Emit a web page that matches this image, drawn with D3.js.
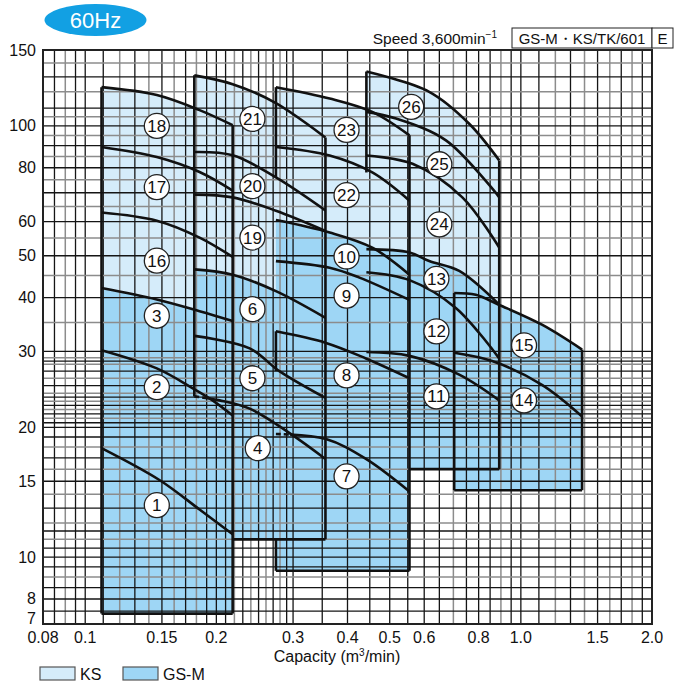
<!DOCTYPE html>
<html>
<head>
<meta charset="utf-8">
<script src="https://cdn.jsdelivr.net/npm/d3@7/dist/d3.min.js"></script>
<style>
  body { margin: 0; background: #fff; }
  svg text { font-family: "Liberation Sans", Arial, sans-serif; fill: #111; }
</style>
</head>
<body>
<div id="chart"></div>
<script>
// axis ticks
const capTicks = [0.08, 0.1, 0.15, 0.2, 0.3, 0.4, 0.5, 0.6, 0.8, 1.0, 1.5, 2.0];
const capLabels = ["0.08", "0.1", "0.15", "0.2", "0.3", "0.4", "0.5", "0.6", "0.8", "1.0", "1.5", "2.0"];
const headTicks = [7, 8, 10, 15, 20, 30, 40, 50, 60, 80, 100, 150];

// grid lines of the chart paper
const gridCap = [0.085, 0.09, 0.095, 0.1, 0.11, 0.12, 0.13, 0.14, 0.15, 0.16, 0.17, 0.18, 0.19, 0.2,
  0.21, 0.22, 0.23, 0.24, 0.25, 0.26, 0.27, 0.28, 0.29, 0.3, 0.35, 0.4, 0.45, 0.5, 0.55, 0.6, 0.65,
  0.7, 0.75, 0.8, 0.85, 0.9, 0.95, 1.0, 1.1, 1.2, 1.3, 1.4, 1.5, 1.6, 1.7, 1.8, 1.9];
const gridHead = [7.5, 8, 8.5, 9, 9.5, 10, 10.5, 11, 11.5, 12, 13, 14, 15, 16, 17, 18, 19, 20,
  20.5, 21, 21.5, 22, 22.5, 23, 23.5, 24, 25, 26, 27, 28, 28.5, 29, 30, 35, 40, 45, 50, 55, 60,
  65, 70, 75, 80, 85, 90, 95, 100, 105, 110, 120, 130, 140];

// pump columns: capacity range and bottom head (m3/min, m)
const colLeft = [0.109, 0.178, 0.274, 0.442, 0.703];
const colRight = [0.218, 0.356, 0.555, 0.892, 1.382];
const colBottom = [7.4, 11.0, 9.3, 16.0, 14.3];
const gsmCount = [3, 3, 4, 3, 2]; // lower curves of each column are GS-M, rest KS

// head curves [capacity, head], bottom to top in each column
const colA = [
  [[0.109, 17.9], [0.148, 15.1], [0.183, 12.9], [0.218, 11.3]],             // 1
  [[0.109, 30.2], [0.146, 27.4], [0.177, 24.6], [0.196, 23.1], [0.218, 21.3]], // 2
  [[0.109, 42.1], [0.146, 39.6], [0.183, 37.2], [0.218, 35.3]],             // 3
  [[0.109, 63.0], [0.146, 60.3], [0.183, 55.1], [0.218, 49.7]],             // 16
  [[0.109, 89.4], [0.146, 84.7], [0.183, 78.2], [0.218, 70.8]],             // 17
  [[0.109, 123], [0.146, 117.9], [0.183, 108.8], [0.218, 100.4]]            // 18
];
const colB = [
  [[0.178, 23.6], [0.2035, 23.1], [0.2385, 22.1], [0.2945, 19.4], [0.356, 16.9]], // 4
  [[0.178, 32.6], [0.2385, 30.5], [0.279, 27.0], [0.356, 23.4]],            // 5
  [[0.178, 46.5], [0.218, 45.2], [0.274, 41.4], [0.356, 35.9]],             // 6
  [[0.178, 69.3], [0.218, 68.3], [0.274, 63.6], [0.356, 57.1]],             // 19
  [[0.178, 87.0], [0.218, 85.5], [0.274, 76.0], [0.356, 63.7]],             // 20
  [[0.178, 131], [0.218, 125], [0.274, 113], [0.356, 94.0]]                 // 21
];
const colC = [
  [[0.274, 19.3], [0.357, 18.8], [0.441, 16.9], [0.555, 14.2]],             // 7
  [[0.274, 33.4], [0.357, 31.4], [0.441, 28.9], [0.555, 26.0]],             // 8
  [[0.274, 48.6], [0.364, 46.9], [0.426, 44.5], [0.555, 39.5]],             // 9
  [[0.274, 60.5], [0.364, 56.6], [0.456, 52.2], [0.555, 45.2]],             // 10
  [[0.274, 89.4], [0.364, 85.4], [0.456, 78.0], [0.555, 67.1]],             // 22
  [[0.274, 123], [0.364, 115.8], [0.456, 107.8], [0.555, 95.1]]             // 23
];
const colD = [
  [[0.442, 29.9], [0.555, 29.3], [0.722, 26.5], [0.892, 23.1]],             // 11
  [[0.442, 45.8], [0.555, 43.9], [0.71, 37.8], [0.892, 28.9]],              // 12
  [[0.442, 51.8], [0.555, 50.9], [0.616, 48.6], [0.722, 46.1], [0.892, 38.5]], // 13
  [[0.442, 85.4], [0.564, 81.7], [0.734, 68.3], [0.892, 52.2]],             // 24
  [[0.442, 107.8], [0.517, 104], [0.673, 92.6], [0.892, 68.3]],             // 25
  [[0.442, 133.7], [0.616, 120], [0.761, 101.2], [0.892, 83.2]]             // 26
];
const colE = [
  [[0.703, 29.8], [0.859, 28.5], [1.118, 25.1], [1.382, 21.2]],             // 14
  [[0.703, 41.0], [0.788, 40.6], [0.89, 38.5], [1.118, 34.6], [1.382, 30.3]] // 15
];
const columns = [colA, colB, colC, colD, colE];

// visible parts of the left edges (head ranges) and of the bottoms (capacity ranges)
const leftEdges = [[[7.4, 123]], [[23.6, 131]], [[9.3, 11.0], [27.0, 33.4], [76, 123]], [[78, 133.7]], [[14.3, 41.0]]];
const bottomSpans = [[0.109, 0.218], [0.218, 0.356], [0.274, 0.555], [0.555, 0.892], [0.703, 1.382]];
// curves partly hidden behind another range: [column, curve index, capacity where solid begins]
const dashedStarts = [[1, 0, 0.19], [2, 0, 0.295]];

// region numbers
const labelText = ["1", "2", "3", "16", "17", "18", "4", "5", "6", "19", "20", "21",
  "7", "8", "9", "10", "22", "23", "11", "12", "13", "24", "25", "26", "14", "15"];
const labelQ = [0.146, 0.146, 0.146, 0.146, 0.146, 0.146, 0.249, 0.242, 0.242, 0.242, 0.242, 0.242,
  0.398, 0.398, 0.398, 0.398, 0.398, 0.398, 0.64, 0.64, 0.64, 0.65, 0.65, 0.56, 1.017, 1.017];
const labelH = [13.2, 24.8, 36.3, 48.7, 72.1, 100, 17.9, 26.0, 37.6, 55.1, 72.5, 103.8,
  15.4, 26.4, 40.4, 49.8, 69.1, 97.9, 23.6, 33.4, 44.2, 59.1, 81.5, 110.7, 23.1, 31.0];

const KS_COLOR = "#d5ecfa", GSM_COLOR = "#9ed6f5";
const width = 676, height = 685;

const svg = d3.select("#chart").append("svg")
  .attr("width", width).attr("height", height)
  .attr("viewBox", [0, 0, width, height]);

const x = d3.scaleLog().domain([0.08, 2.0]).range([43, 652]);
const y = d3.scaleLog().domain([7, 150]).range([624, 50]);

const line = d3.line().x(d => x(d[0])).y(d => y(d[1])).curve(d3.curveCatmullRom.alpha(0.5));

// closed area under a curve down to the column bottom
function area(col, top) {
  const l = colLeft[col], r = colRight[col], b = colBottom[col];
  return `M${x(l)},${y(b)}L` + line(top).slice(1) + `L${x(r)},${y(b)}Z`;
}

// fills: KS first, GS-M on top
const fills = svg.append("g");
columns.forEach((curves, i) => {
  if (gsmCount[i] < curves.length)
    fills.append("path").attr("d", area(i, curves[curves.length - 1])).attr("fill", KS_COLOR);
});
columns.forEach((curves, i) => {
  fills.append("path").attr("d", area(i, curves[gsmCount[i] - 1])).attr("fill", GSM_COLOR);
});

// grid
const grid = svg.append("g");
grid.selectAll(".gx").data(gridCap).join("line")
  .attr("x1", d => x(d)).attr("x2", d => x(d))
  .attr("y1", y(7)).attr("y2", y(150))
  .attr("stroke", (d, i) => (i % 2 && !capTicks.includes(d)) ? "#8c8c8c" : "#151515")
  .attr("stroke-width", (d, i) => (i % 2 && !capTicks.includes(d)) ? 1.5 : 1.3);
grid.selectAll(".gy").data(gridHead).join("line")
  .attr("y1", d => y(d)).attr("y2", d => y(d))
  .attr("x1", x(0.08)).attr("x2", x(2.0))
  .attr("stroke", (d, i) => (i % 2 && !headTicks.includes(d)) ? "#8c8c8c" : "#151515")
  .attr("stroke-width", (d, i) => (i % 2 && !headTicks.includes(d)) ? 1.5 : 1.3);
svg.append("rect")
  .attr("x", x(0.08)).attr("y", y(150))
  .attr("width", x(2.0) - x(0.08)).attr("height", y(7) - y(150))
  .attr("fill", "none").attr("stroke", "#222").attr("stroke-width", 2);

// clips for dashed starts
const defs = svg.append("defs");
dashedStarts.forEach(([c, k, q], j) => {
  defs.append("clipPath").attr("id", "solid" + j).append("rect")
    .attr("x", x(q)).attr("y", 0).attr("width", width).attr("height", height);
  defs.append("clipPath").attr("id", "dash" + j).append("rect")
    .attr("x", 0).attr("y", 0).attr("width", x(q)).attr("height", height);
});

// outlines
const outl = svg.append("g")
  .attr("fill", "none").attr("stroke", "#111").attr("stroke-width", 2.6)
  .attr("stroke-linejoin", "round");
columns.forEach((curves, i) => {
  curves.forEach((c, k) => {
    const ds = dashedStarts.findIndex(d => d[0] === i && d[1] === k);
    if (ds < 0) {
      outl.append("path").attr("d", line(c));
    } else {
      outl.append("path").attr("d", line(c)).attr("clip-path", `url(#solid${ds})`);
      outl.append("path").attr("d", line(c)).attr("clip-path", `url(#dash${ds})`)
        .attr("stroke-dasharray", "5,3");
    }
  });
  const top = curves[curves.length - 1];
  outl.append("line")
    .attr("x1", x(colRight[i])).attr("x2", x(colRight[i]))
    .attr("y1", y(top[top.length - 1][1])).attr("y2", y(colBottom[i]));
  leftEdges[i].forEach(([lo, hi]) => {
    outl.append("line")
      .attr("x1", x(colLeft[i])).attr("x2", x(colLeft[i]))
      .attr("y1", y(lo)).attr("y2", y(hi));
  });
  outl.append("line")
    .attr("x1", x(bottomSpans[i][0])).attr("x2", x(bottomSpans[i][1]))
    .attr("y1", y(colBottom[i])).attr("y2", y(colBottom[i]));
});

// region numbers
const labels = svg.append("g").selectAll("g").data(labelText).join("g")
  .attr("transform", (d, i) => `translate(${x(labelQ[i])},${y(labelH[i])})`);
labels.append("circle").attr("r", 12.5).attr("fill", "#fff").attr("stroke", "#222").attr("stroke-width", 1.3);
labels.append("text")
  .attr("text-anchor", "middle").attr("y", 6).attr("font-size", 17)
  .attr("textLength", d => d.length > 1 ? 19 : null)
  .attr("lengthAdjust", "spacingAndGlyphs")
  .text(d => d);

// axis labels
svg.append("g").selectAll("text").data(headTicks).join("text")
  .attr("x", 36).attr("y", d => y(d) + (d === 7 ? 0 : 5.5))
  .attr("text-anchor", "end").attr("font-size", 16)
  .text(d => d);
svg.append("g").selectAll("text").data(capTicks).join("text")
  .attr("x", d => x(d)).attr("y", 643)
  .attr("text-anchor", "middle").attr("font-size", 16)
  .text((d, i) => capLabels[i]);
const xt = svg.append("text").attr("x", 337).attr("y", 662)
  .attr("text-anchor", "middle").attr("font-size", 16);
xt.append("tspan").text("Capacity (m");
xt.append("tspan").text("3").attr("font-size", 10).attr("dy", -6);
xt.append("tspan").text("/min)").attr("dy", 6);

// header
svg.append("ellipse").attr("cx", 95.5).attr("cy", 20).attr("rx", 51).attr("ry", 16).attr("fill", "#12a0e3");
svg.append("text").attr("x", 95.5).attr("y", 28).attr("text-anchor", "middle")
  .attr("font-size", 22).style("fill", "#fff").text("60Hz");
const sp = svg.append("text").attr("x", 497).attr("y", 44).attr("text-anchor", "end").attr("font-size", 15.5);
sp.append("tspan").text("Speed 3,600min");
sp.append("tspan").text("−1").attr("font-size", 10).attr("dy", -6);
svg.append("rect").attr("x", 512).attr("y", 28).attr("width", 140).attr("height", 20)
  .attr("fill", "#fff").attr("stroke", "#222").attr("stroke-width", 1);
svg.append("text").attr("x", 582).attr("y", 43.5).attr("text-anchor", "middle").attr("font-size", 15)
  .text("GS-M・KS/TK/601");
svg.append("rect").attr("x", 652).attr("y", 28).attr("width", 21).attr("height", 20)
  .attr("fill", "#fff").attr("stroke", "#222").attr("stroke-width", 1);
svg.append("text").attr("x", 662.5).attr("y", 43.5).attr("text-anchor", "middle").attr("font-size", 15).text("E");

// legend
const legend = [["KS", KS_COLOR, 40], ["GS-M", GSM_COLOR, 123]];
legend.forEach(([name, color, lx]) => {
  svg.append("rect").attr("x", lx).attr("y", 667).attr("width", 35).attr("height", 13)
    .attr("fill", color).attr("stroke", "#555").attr("stroke-width", 1.2);
  svg.append("text").attr("x", lx + 40).attr("y", 680).attr("font-size", 16).text(name);
});
</script>
</body>
</html>
